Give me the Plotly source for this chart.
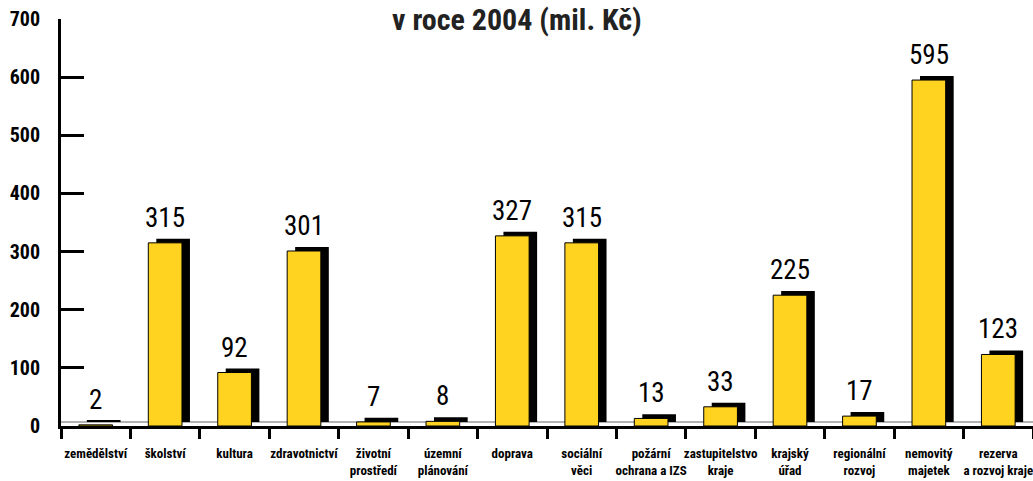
import plotly.graph_objects as go

categories = ["zemědělství", "školství", "kultura", "zdravotnictví", "životní<br>prostředí",
              "územní<br>plánování", "doprava", "sociální<br>věci", "požární<br>ochrana a IZS",
              "zastupitelstvo<br>kraje", "krajský<br>úřad", "regionální<br>rozvoj",
              "nemovitý<br>majetek", "rezerva<br>a rozvoj kraje"]
values = [2, 315, 92, 301, 7, 8, 327, 315, 13, 33, 225, 17, 595, 123]
y_ticks = [0, 100, 200, 300, 400, 500, 600, 700]

FONT = "Roboto Condensed, Open Sans Condensed, sans-serif"
YELLOW = "#FFD320"
W = 0.485
DX = 0.115
DY = 7

fig = go.Figure()
# shadow bars
fig.add_trace(go.Bar(x=categories, y=values, base=DY, width=W, offset=-W/2 + DX,
                     marker=dict(color="black", line=dict(width=0)), hoverinfo="skip"))
# front bars
fig.add_trace(go.Bar(x=categories, y=values, width=W, offset=-W/2,
                     marker=dict(color=YELLOW, line=dict(color="black", width=1))))

for c, v in zip(categories, values):
    fig.add_annotation(x=c, y=v, text=str(v), showarrow=False, yshift=25,
                       font=dict(family=FONT, size=27, color="black", weight="normal"))

fig.add_annotation(x=0.469, xref="paper", y=1.0, yref="paper", yanchor="middle",
                   text="v roce 2004 (mil. Kč)", showarrow=False,
                   font=dict(family=FONT, size=30, color="#222", weight="bold"))

fig.add_shape(type="line", xref="paper", x0=0, x1=1, yref="y", y0=7, y1=7,
              line=dict(color="#999", width=1.5), layer="below")

fig.update_layout(
    width=1033, height=481,
    margin=dict(l=61, r=0, t=19, b=55),
    plot_bgcolor="white", paper_bgcolor="white",
    barmode="overlay", showlegend=False,
    font=dict(family=FONT, color="black", weight="bold"),
    xaxis=dict(type="category", showline=True, linecolor="black", linewidth=3,
               ticks="outside", tickson="boundaries", ticklen=10, tickwidth=2.5, tickcolor="black",
               tickangle=0,
               tickfont=dict(family=FONT, size=13, color="black", weight="bold"), showgrid=False,
               range=[-0.5, 13.5], ticklabelstandoff=13),
    yaxis=dict(range=[0, 700], tickvals=y_ticks, showline=True, linecolor="black", linewidth=3,
               ticks="inside", ticklen=23, tickwidth=2.5, tickcolor="black",
               tickfont=dict(family=FONT, size=20, color="black", weight="bold"), showgrid=False,
               zeroline=False, ticklabelstandoff=14),
)

fig.write_html("out.html", config={"displayModeBar": False},
               post_script="document.body.style.margin='0';document.body.style.overflow='hidden';")
